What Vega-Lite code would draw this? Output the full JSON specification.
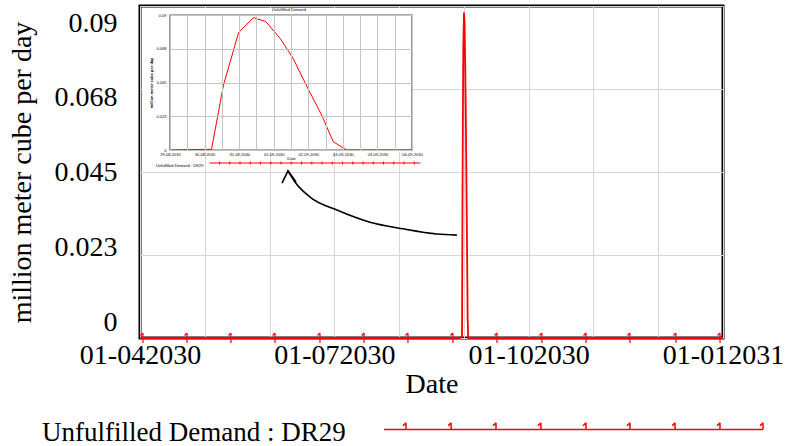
{
  "$schema": "https://vega.github.io/schema/vega-lite/v6.json",
  "width": 583,
  "height": 332,
  "autosize": {"type": "none"},
  "padding": {"left": 140, "top": 6, "right": 65, "bottom": 108},
  "background": "white",
  "config": {
    "view": {"stroke": "black", "strokeWidth": 3},
    "font": "Liberation Serif"
  },
  "datasets": {
    "series": [
      {"series": "Unfulfilled Demand : DR29", "day": 0, "value": 0},
      {"series": "Unfulfilled Demand : DR29", "day": 151, "value": 0},
      {"series": "Unfulfilled Demand : DR29", "day": 151.75, "value": 0.0004},
      {"series": "Unfulfilled Demand : DR29", "day": 151.9, "value": 0.0004},
      {"series": "Unfulfilled Demand : DR29", "day": 152.16, "value": 0.0433},
      {"series": "Unfulfilled Demand : DR29", "day": 152.49, "value": 0.0784},
      {"series": "Unfulfilled Demand : DR29", "day": 152.81, "value": 0.0882},
      {"series": "Unfulfilled Demand : DR29", "day": 153.08, "value": 0.0856},
      {"series": "Unfulfilled Demand : DR29", "day": 153.39, "value": 0.0744},
      {"series": "Unfulfilled Demand : DR29", "day": 153.67, "value": 0.0611},
      {"series": "Unfulfilled Demand : DR29", "day": 153.99, "value": 0.0411},
      {"series": "Unfulfilled Demand : DR29", "day": 154.29, "value": 0.0233},
      {"series": "Unfulfilled Demand : DR29", "day": 154.54, "value": 0.0056},
      {"series": "Unfulfilled Demand : DR29", "day": 154.83, "value": 0},
      {"series": "Unfulfilled Demand : DR29", "day": 156.25, "value": 0},
      {"series": "Unfulfilled Demand : DR29", "day": 275, "value": 0}
    ],
    "markers": [
      {"day": 1.4, "value": 0}, {"day": 22.2, "value": 0}, {"day": 42.9, "value": 0},
      {"day": 63.7, "value": 0}, {"day": 84.9, "value": 0}, {"day": 105.7, "value": 0},
      {"day": 126.4, "value": 0}, {"day": 147.6, "value": 0}, {"day": 168.4, "value": 0},
      {"day": 189.6, "value": 0}, {"day": 210.4, "value": 0}, {"day": 231.1, "value": 0},
      {"day": 252.8, "value": 0}, {"day": 273.6, "value": 0}
    ],
    "arrow": [
      {"part": "shaft", "day": 69.8, "value": 0.0453},
      {"part": "shaft", "day": 73.1, "value": 0.0423},
      {"part": "shaft", "day": 80.2, "value": 0.0382},
      {"part": "shaft", "day": 92.9, "value": 0.0347},
      {"part": "shaft", "day": 108.5, "value": 0.0314},
      {"part": "shaft", "day": 124.1, "value": 0.0296},
      {"part": "shaft", "day": 140.1, "value": 0.0282},
      {"part": "shaft", "day": 149.5, "value": 0.0279},
      {"part": "head", "day": 67.0, "value": 0.042},
      {"part": "head", "day": 69.8, "value": 0.0453},
      {"part": "head", "day": 73.6, "value": 0.0423}
    ]
  },
  "resolve": {
    "scale": {"x": "independent", "y": "independent", "stroke": "independent"},
    "axis": {"x": "independent", "y": "independent"},
    "legend": {"stroke": "independent"}
  },
  "layer": [
    {
      "encoding": {
        "x": {
          "field": "day", "type": "quantitative",
          "scale": {"domain": [0, 275], "nice": false, "zero": false},
          "axis": {
            "values": [0, 30.556, 61.111, 91.667, 122.222, 152.778, 183.333, 213.889, 244.444, 275],
            "labelExpr": "abs(datum.value) < 1 ? '01-042030' : abs(datum.value - 91.667) < 1 ? '01-072030' : abs(datum.value - 183.333) < 1 ? '01-102030' : abs(datum.value - 275) < 1 ? '01-012031' : ''",
            "grid": true, "gridColor": "#d6d6d6", "gridWidth": 1,
            "domain": false, "ticks": false, "tickSize": 0,
            "labelFont": "Liberation Serif", "labelFontSize": 28, "labelColor": "black",
            "labelPadding": 3, "labelFlush": false, "labelOverlap": false, "labelBound": false,
            "title": "Date", "titleFont": "Liberation Serif", "titleFontSize": 28,
            "titleFontWeight": "normal", "titleColor": "black", "titlePadding": 1
          }
        },
        "y": {
          "field": "value", "type": "quantitative",
          "scale": {"domain": [0, 0.09], "nice": false, "zero": false},
          "axis": {
            "values": [0, 0.0225, 0.045, 0.0675, 0.09],
            "labelExpr": "datum.value == 0 ? '0' : datum.value < 0.03 ? '0.023' : datum.value < 0.05 ? '0.045' : datum.value < 0.07 ? '0.068' : '0.09'",
            "grid": true, "gridColor": "#d6d6d6", "gridWidth": 1,
            "domain": false, "ticks": false, "tickSize": 0,
            "labelFont": "Liberation Serif", "labelFontSize": 28, "labelColor": "black",
            "labelPadding": 23, "labelOverlap": false, "labelBound": false, "labelFlush": false,
            "labelOffset": {"condition": [
              {"test": "datum.value > 0.08", "value": 17},
              {"test": "datum.value > 0.06", "value": 8},
              {"test": "datum.value > 0.04", "value": 0},
              {"test": "datum.value > 0.01", "value": -8}
            ], "value": -16},
            "title": "million meter cube per day", "titleFont": "Liberation Serif",
            "titleFontSize": 28, "titleFontWeight": "normal", "titleColor": "black",
            "titlePadding": 18
          }
        }
      },
      "layer": [
        {
          "data": {"name": "series"},
          "mark": {"type": "line", "strokeWidth": 1.8},
          "encoding": {
            "stroke": {
              "field": "series", "type": "nominal",
              "scale": {"range": ["#ff0000"]},
              "legend": {
                "orient": "none", "legendX": -98, "legendY": 233, "padding": 0,
                "title": "Unfulfilled Demand : DR29", "titleOrient": "left", "titleLimit": 1000,
                "titleAnchor": "end", "titleBaseline": "middle",
                "titleFont": "Liberation Serif", "titleFontSize": 27, "titleFontWeight": "normal",
                "titleColor": "black", "titlePadding": 37,
                "symbolType": "M-1,0H1M-0.884,-0.035V0M-0.884,-0.035L-0.9,-0.02M-0.646,-0.035V0M-0.646,-0.035L-0.662,-0.02M-0.409,-0.035V0M-0.409,-0.035L-0.425,-0.02M-0.172,-0.035V0M-0.172,-0.035L-0.188,-0.02M0.066,-0.035V0M0.066,-0.035L0.05,-0.02M0.298,-0.035V0M0.298,-0.035L0.282,-0.02M0.536,-0.035V0M0.536,-0.035L0.52,-0.02M0.773,-0.035V0M0.773,-0.035L0.757,-0.02M1,-0.035V0M1,-0.035L0.984,-0.02",
                "symbolSize": 143641, "symbolStrokeWidth": 1.5, "symbolFillColor": "transparent",
                "labelExpr": "''", "labelFontSize": 1, "labelOffset": 0
              }
            }
          }
        },
        {
          "data": {"name": "markers"},
          "mark": {"type": "point", "shape": "M0,-1L0,1M0,-1L-0.5,-0.5", "size": 100, "filled": false, "stroke": "#ff0000", "strokeWidth": 1.2, "opacity": 1}
        },
        {
          "data": {"name": "arrow"},
          "transform": [{"filter": "datum.part == 'shaft'"}],
          "mark": {"type": "line", "stroke": "black", "strokeWidth": 1.6, "interpolate": "monotone"}
        },
        {
          "data": {"name": "arrow"},
          "transform": [{"filter": "datum.part == 'head'"}],
          "mark": {"type": "line", "stroke": "black", "strokeWidth": 1.6}
        }
      ]
    },
    {
      "data": {"name": "series"},
      "transform": [{"filter": "datum.day >= 151 && datum.day <= 156.25"}],
      "encoding": {
        "x": {
          "field": "day", "type": "quantitative",
          "scale": {"domain": [151, 156.25], "range": [30, 272], "nice": false, "zero": false},
          "axis": {
            "orient": "bottom", "offset": -188, "zindex": 1,
            "values": [151, 151.375, 151.75, 152.125, 152.5, 152.875, 153.25, 153.625, 154, 154.375, 154.75, 155.125, 155.5, 155.875, 156.25],
            "labelExpr": "round((datum.value - 151) / 0.375) % 2 == 0 ? ['29-08-2030','30-08-2030','31-08-2030','01-09-2030','02-09-2030','03-09-2030','03-09-2030','04-09-2030'][round((datum.value - 151) / 0.75)] : ''",
            "grid": false, "domain": false,
            "ticks": true, "tickSize": -135, "tickColor": "#c4c4c4", "tickWidth": 1,
            "labelFont": "Liberation Sans", "labelFontSize": 4, "labelColor": "black",
            "labelPadding": 137, "labelFlush": false, "labelOverlap": false, "labelBound": false,
            "title": "Date", "titleFont": "Liberation Sans", "titleFontSize": 4,
            "titleFontWeight": "normal", "titleColor": "black", "titlePadding": 0
          }
        },
        "y": {
          "field": "value", "type": "quantitative",
          "scale": {"domain": [0, 0.09], "range": [144, 9], "nice": false, "zero": false},
          "axis": {
            "orient": "left", "offset": -30, "zindex": 1,
            "values": [0, 0.0225, 0.045, 0.0675, 0.09],
            "labelExpr": "datum.value == 0 ? '0' : datum.value < 0.03 ? '0.023' : datum.value < 0.05 ? '0.045' : datum.value < 0.07 ? '0.068' : '0.09'",
            "grid": false, "domain": false,
            "ticks": true, "tickSize": -242, "tickColor": "#c4c4c4", "tickWidth": 1,
            "labelFont": "Liberation Sans", "labelFontSize": 4, "labelColor": "black",
            "labelPadding": 246, "labelOverlap": false, "labelBound": false, "labelFlush": false,
            "title": "million meter cube per day", "titleFont": "Liberation Sans",
            "titleFontSize": 4, "titleFontWeight": "bold", "titleColor": "black", "titlePadding": 2
          }
        }
      },
      "layer": [
        {
          "transform": [{"filter": "datum.day == 151"}],
          "mark": {"type": "rect", "fill": "white", "strokeWidth": 0, "xOffset": -27, "x2Offset": 1, "yOffset": 2, "y2Offset": -7},
          "encoding": {
            "x2": {"datum": 156.25},
            "y2": {"datum": 0.09}
          }
        },
        {
          "mark": {"type": "line", "strokeWidth": 1},
          "encoding": {
            "stroke": {
              "field": "series", "type": "nominal",
              "scale": {"range": ["#ff0000"]},
              "legend": {
                "orient": "none", "legendX": 16, "legendY": 51, "padding": 0,
                "title": "Unfulfilled Demand : DR29", "titleOrient": "left", "titleLimit": 1000,
                "titleAnchor": "end", "titleBaseline": "middle",
                "titleFont": "Liberation Sans", "titleFontSize": 4, "titleFontWeight": "normal",
                "titleColor": "black", "titlePadding": 5,
                "symbolType": "M-1,0H1M-0.905,-0.014V0.014M-0.808,-0.014V0.014M-0.711,-0.014V0.014M-0.613,-0.014V0.014M-0.516,-0.014V0.014M-0.419,-0.014V0.014M-0.322,-0.014V0.014M-0.225,-0.014V0.014M-0.127,-0.014V0.014M-0.03,-0.014V0.014M0.067,-0.014V0.014M0.164,-0.014V0.014M0.261,-0.014V0.014M0.358,-0.014V0.014M0.456,-0.014V0.014M0.553,-0.014V0.014M0.65,-0.014V0.014M0.747,-0.014V0.014M0.844,-0.014V0.014M0.941,-0.014V0.014",
                "symbolSize": 44521, "symbolStrokeWidth": 1, "symbolFillColor": "transparent",
                "labelExpr": "''", "labelFontSize": 1, "labelOffset": 0
              }
            }
          }
        },
        {
          "transform": [{"filter": "datum.day == 151"}],
          "mark": {"type": "rect", "fill": "transparent", "stroke": "#555555", "strokeWidth": 1.2},
          "encoding": {
            "x2": {"datum": 156.25},
            "y2": {"datum": 0.09}
          }
        },
        {
          "transform": [{"filter": "datum.day == 151"}],
          "mark": {"type": "text", "font": "Liberation Sans", "fontSize": 4, "color": "black", "baseline": "middle", "align": "center", "dx": 119, "dy": -140.5},
          "encoding": {
            "text": {"value": "Unfulfilled Demand"}
          }
        }
      ]
    }
  ]
}
